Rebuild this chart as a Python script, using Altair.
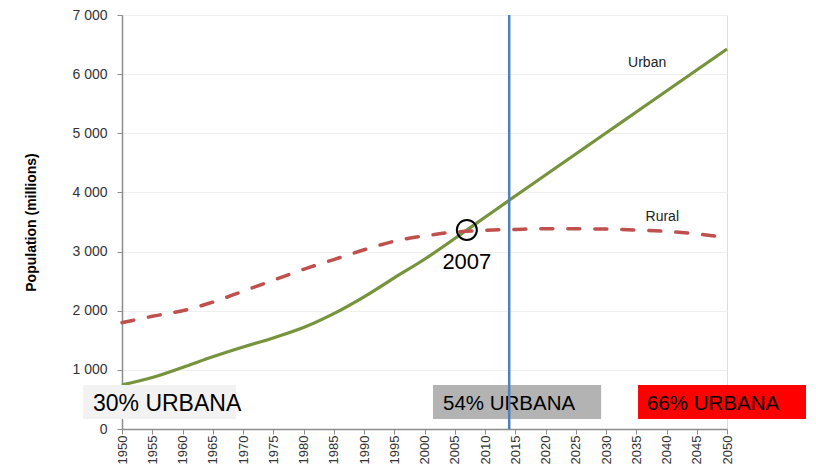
import altair as alt
import pandas as pd

years = list(range(1950, 2051, 5))
urban = [745, 870, 1040, 1220, 1385, 1540, 1715, 1950, 2235, 2555, 2870, 3220,
         3580, 3940, 4295, 4650, 5005, 5360, 5715, 6070, 6425]
rural = [1797, 1905, 2000, 2145, 2330, 2515, 2700, 2865, 3030, 3175, 3265, 3330,
         3360, 3375, 3385, 3385, 3380, 3365, 3340, 3300, 3232]

box_labels = ["30% URBANA", "54% URBANA", "66% URBANA"]
box_start = [1943.55, 2001.4, 2035.3]
box_end = [1968.84, 2029.2, 2063.06]
box_text_at = [1945.2, 2003.06, 2036.78]
box_font = [23, 20.5, 20.5]
box_colors = ["#f2f2f2", "#b3b3b3", "#ff0000"]
box_low = [169, 169, 169]
box_high = [744, 744, 744]
box_mid = [423, 423, 423]

series_labels = ["Urban", "Rural"]
series_label_year = [2036.8, 2039.3]
series_label_value = [6190, 3585]

cross_year = [2007]
cross_value = [3365]
cross_label_value = [2830]
marker_year = [2014]

df = pd.DataFrame({"year": years * 2,
                   "pop": urban + rural,
                   "series": ["Urban"] * len(years) + ["Rural"] * len(years)})
boxes = pd.DataFrame({"label": box_labels, "x1": box_start, "x2": box_end,
                      "y1": box_low, "y2": box_high, "color": box_colors,
                      "tx": box_text_at, "ty": box_mid, "fs": box_font})
slabels = pd.DataFrame({"label": series_labels, "year": series_label_year, "pop": series_label_value})
cross = pd.DataFrame({"year": cross_year, "pop": cross_value})
cross_lbl = pd.DataFrame({"year": cross_year, "pop": cross_label_value,
                          "label": [str(y) for y in cross_year]})
vline = pd.DataFrame({"year": marker_year})

xscale = alt.Scale(domain=[1950, 2050], nice=False, zero=False)
yscale = alt.Scale(domain=[0, 7000], nice=False)

FONT = "Liberation Sans"

xaxis = alt.Axis(values=years, format="d", labelAngle=-90, labelFontSize=13,
                 labelColor="#333333", labelPadding=1, title=None, grid=False,
                 labelOverlap=False, labelFlush=False, labelBound=False,
                 domainColor="#8c8c8c", tickColor="#8c8c8c", tickSize=5, domainWidth=1.5,
                 labelFont=FONT, labelAlign="right", labelBaseline="middle")
yaxis = alt.Axis(values=list(range(0, 7001, 1000)),
                 labelExpr="replace(format(datum.value, ','), ',', ' ')",
                 title="Population (millions)", titleFontSize=14, titleFontWeight="bold",
                 titleColor="#000000", titlePadding=33, titleFont=FONT,
                 labelFontSize=14, labelColor="#333333", labelFont=FONT, labelPadding=10,
                 labelOverlap=False,
                 gridColor="#efefef", domainColor="#8c8c8c", tickColor="#8c8c8c",
                 tickSize=5, domainWidth=1.5)


def X(field):
    return alt.X(field, scale=xscale, axis=xaxis)


def Y(field):
    return alt.Y(field, scale=yscale, axis=yaxis)


urban_line = alt.Chart(df).transform_filter(alt.datum.series == "Urban").mark_line(
    color="#77933c", strokeWidth=3.2, interpolate="monotone").encode(
    x=X("year:Q"), y=Y("pop:Q"))
rural_line = alt.Chart(df).transform_filter(alt.datum.series == "Rural").mark_line(
    color="#c0504d", strokeWidth=3.5, strokeDash=[12, 15], strokeCap="round",
    interpolate="monotone").encode(
    x=X("year:Q"), y=Y("pop:Q"))

rects = alt.Chart(boxes).mark_rect().encode(
    x=X("x1:Q"), x2="x2:Q",
    y=Y("y1:Q"), y2="y2:Q",
    color=alt.Color("color:N", scale=None))
rect_text = alt.Chart(boxes).mark_text(align="left", baseline="middle", font=FONT,
                                       color="#000000").encode(
    x=X("tx:Q"), y=Y("ty:Q"), text="label:N",
    size=alt.Size("fs:Q", scale=None))

vrule = alt.Chart(vline).mark_rule(color="#4f81bd", strokeWidth=2.5).encode(
    x=X("year:Q"), y=alt.value(0), y2=alt.value(414))

stext = alt.Chart(slabels).mark_text(align="center", baseline="middle", fontSize=14,
                                     font=FONT, color="#222222").encode(
    x=X("year:Q"), y=Y("pop:Q"), text="label:N")

circ = alt.Chart(cross).mark_point(shape="circle", size=400, filled=False, color="#000000",
                                   strokeWidth=2, opacity=1).encode(
    x=X("year:Q"), y=Y("pop:Q"))
circ_text = alt.Chart(cross_lbl).mark_text(align="center", baseline="middle", fontSize=22,
                                           font=FONT, color="#000000").encode(
    x=X("year:Q"), y=Y("pop:Q"), text="label:N")

chart = alt.layer(urban_line, rural_line, rects, rect_text, vrule, stext, circ, circ_text).properties(
    width=605, height=414,
    autosize=alt.AutoSizeParams(type="none"),
    padding={"left": 114, "top": 7, "right": 79, "bottom": 35},
).configure_view(stroke=None).configure(background="white")

chart.save("out.html", embed_options={"renderer": "svg", "actions": False})
